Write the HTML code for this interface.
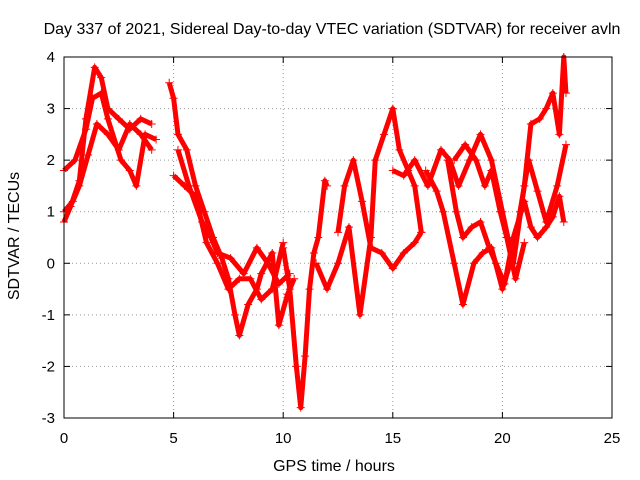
<!DOCTYPE html>
<html><head><meta charset="utf-8"><style>
body{margin:0;background:#fff;}
svg{display:block;font-family:"Liberation Sans",sans-serif;}
</style></head><body>
<svg id="chart" width="640" height="480">
<text x="332" y="34" font-size="16" text-anchor="middle">Day 337 of 2021, Sidereal Day-to-day VTEC variation (SDTVAR) for receiver avln</text>
<text x="334" y="471" font-size="16" text-anchor="middle">GPS time / hours</text>
<text transform="translate(19,236) rotate(-90)" font-size="16" text-anchor="middle">SDTVAR / TECUs</text>
<g id="grid"></g><g id="ticks"></g><g id="series"></g>
<rect x="64" y="57" width="548" height="361" fill="none" stroke="#000" stroke-width="1"/>
</svg>
<script>
const xTicks=[0,5,10,15,20,25];
const yTicks=[-3,-2,-1,0,1,2,3,4];
const traceA_x=[0,0.3,0.7,1.0,1.4,1.7,2.0,2.5,3.0,3.5,4.0];
const traceA_y=[0.8,1.1,1.6,2.8,3.8,3.6,3.0,2.8,2.6,2.8,2.7];
const traceB_x=[0,0.5,1.0,1.3,1.7,2.0,2.6,3.0,3.3,3.7,4.2];
const traceB_y=[1.8,2.0,2.6,3.2,3.3,2.8,2.0,1.8,1.5,2.5,2.4];
const traceC_x=[0,0.4,0.7,1.1,1.5,2.0,2.5,3.0,3.5,4.0];
const traceC_y=[1.0,1.2,1.5,2.1,2.7,2.5,2.2,2.7,2.5,2.2];
const traceD_x=[4.8,5.0,5.2,5.6,6.0,6.4,6.8,7.2,7.5,7.8,8.0,8.4,8.8,9.0,9.5,9.8,10.2,10.5];
const traceD_y=[3.5,3.2,2.5,2.2,1.5,1.0,0.5,0.1,-0.3,-1.0,-1.4,-0.8,-0.5,-0.2,0.2,-1.2,-0.6,-0.3];
const traceE_x=[5.0,5.5,6.0,6.5,7.0,7.5,8.0,8.5,9.0,9.5,10.0];
const traceE_y=[1.7,1.5,1.3,0.4,0.0,-0.5,-0.3,-0.3,-0.7,-0.5,0.4];
const traceF_x=[5.2,5.7,6.3,6.7,7.0,7.6,8.2,8.8,9.3,9.8,10.3];
const traceF_y=[2.2,1.5,0.8,0.5,0.2,0.1,-0.2,0.3,0.0,-0.4,-0.2];
const traceG_x=[10.0,10.3,10.6,10.8,11.0,11.2,11.4,11.6,11.9,12.0];
const traceG_y=[0.3,-0.5,-2.0,-2.8,-1.8,-0.5,0.2,0.5,1.6,1.5];
const traceH_x=[11.5,12.0,12.5,13.0,13.5,14.0,14.2,14.6,15.0,15.3,15.7,16.0,16.3];
const traceH_y=[0.0,-0.5,0.0,0.7,-1.0,0.5,2.0,2.5,3.0,2.2,1.8,1.5,0.6];
const traceI_x=[12.5,12.8,13.2,13.6,14.0,14.5,15.0,15.5,16.0,16.3];
const traceI_y=[0.6,1.5,2.0,1.2,0.3,0.2,-0.1,0.2,0.4,0.6];
const traceJ_x=[15.0,15.5,16.0,16.6,17.2,17.6,18.0,18.5,19.0,19.5,20.0,20.5,21.0,21.3,21.7,22.0,22.3,22.6,22.8,22.9];
const traceJ_y=[1.8,1.7,2.0,1.5,2.2,2.0,1.5,2.0,2.5,2.0,1.0,0.0,1.5,2.7,2.8,3.0,3.3,2.5,4.0,3.3];
const traceK_x=[17.5,17.9,18.2,18.6,19.0,19.4,19.7,20.1,20.5,21.0,21.3,21.6,22.0,22.3,22.6,22.8];
const traceK_y=[2.0,1.0,0.5,0.7,0.8,0.3,0.0,-0.4,0.5,1.2,0.7,0.5,0.7,0.9,1.3,0.8];
const traceL_x=[16.5,17.0,17.3,17.8,18.2,18.7,19.1,19.5,20.0,20.5,20.8,21.2,21.6,22.0,22.5,22.9];
const traceL_y=[1.8,1.4,1.0,0.0,-0.8,0.0,0.2,0.3,-0.5,0.2,1.0,2.0,1.4,0.8,1.5,2.3];
const traceM_x=[17.8,18.3,18.8,19.2,19.5,19.9,20.2,20.6,21.0];
const traceM_y=[2.0,2.3,2.0,1.5,1.8,1.0,0.5,-0.3,0.4];
const traces=[[traceA_x,traceA_y],[traceB_x,traceB_y],[traceC_x,traceC_y],[traceD_x,traceD_y],[traceE_x,traceE_y],[traceF_x,traceF_y],[traceG_x,traceG_y],[traceH_x,traceH_y],[traceI_x,traceI_y],[traceJ_x,traceJ_y],[traceK_x,traceK_y],[traceL_x,traceL_y],[traceM_x,traceM_y]];

const NS="http://www.w3.org/2000/svg";
const X=v=>64+v*548/25;
const Y=v=>418-(v+3)*361/7;
function mk(t,a,p){const e=document.createElementNS(NS,t);for(const k in a)e.setAttribute(k,a[k]);p.appendChild(e);return e;}
const grid=document.getElementById('grid'),ticks=document.getElementById('ticks'),ser=document.getElementById('series');
xTicks.forEach(t=>{
  if(t>0&&t<25){const g=mk('line',{x1:X(t),x2:X(t),y1:57,y2:418,stroke:'#999','stroke-dasharray':'1,3'},grid);
  
  }
  mk('line',{x1:X(t),x2:X(t),y1:418,y2:412,stroke:'#000'},ticks);
  mk('line',{x1:X(t),x2:X(t),y1:57,y2:63,stroke:'#000'},ticks);
  const l=mk('text',{x:X(t),y:443,'font-size':15,'text-anchor':'middle'},ticks);l.textContent=t;
  
  
});
yTicks.forEach(t=>{
  if(t>-3&&t<4){const g=mk('line',{x1:64,x2:612,y1:Y(t),y2:Y(t),stroke:'#999','stroke-dasharray':'1,3'},grid);
  
  }
  mk('line',{x1:64,x2:70,y1:Y(t),y2:Y(t),stroke:'#000'},ticks);
  mk('line',{x1:612,x2:606,y1:Y(t),y2:Y(t),stroke:'#000'},ticks);
  const l=mk('text',{x:55,y:Y(t)+5,'font-size':15,'text-anchor':'end'},ticks);l.textContent=t;
  
  
});
traces.forEach(([xs,ys],i)=>{
  const pts=xs.map((x,j)=>X(x)+','+Y(ys[j])).join(' ');
  const p=mk('polyline',{points:pts,fill:'none',stroke:'#f00','stroke-width':5,'stroke-linejoin':'round'},ser);
  
  
  xs.forEach((x,j)=>{
    const m=mk('path',{d:`M${X(x)-4},${Y(ys[j])}h8M${X(x)},${Y(ys[j])-4}v8`,stroke:'#f00','stroke-width':1},ser);
    
    
  });
});
</script>
</body></html>
